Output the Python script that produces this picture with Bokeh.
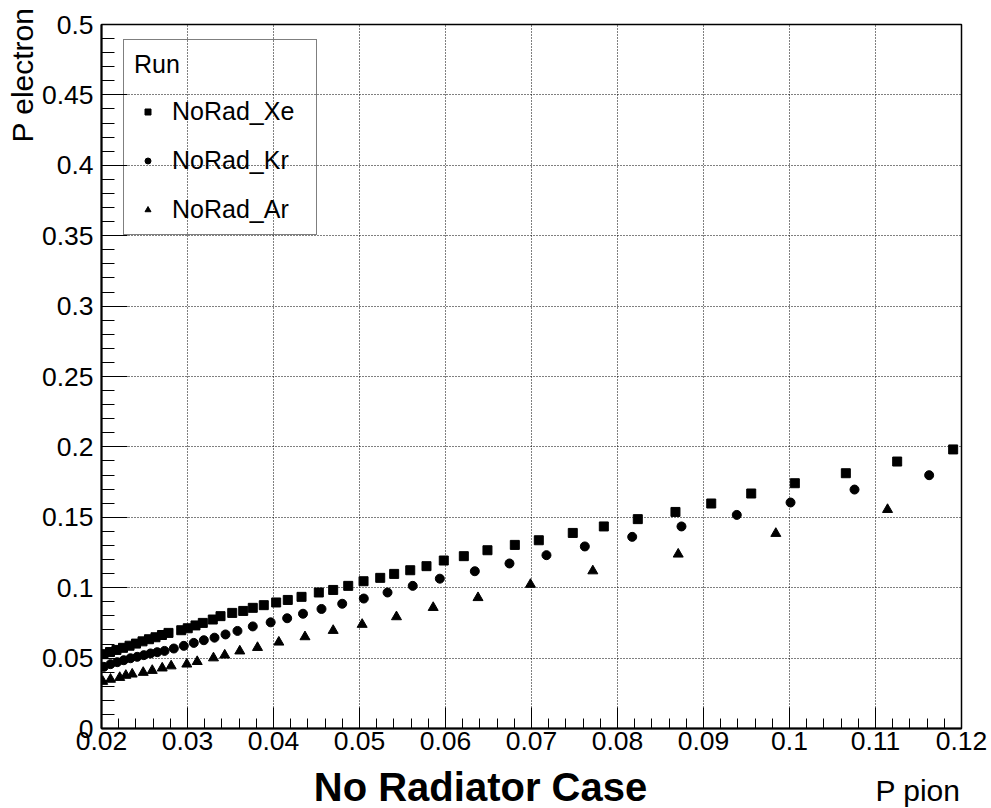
import numpy as np
from bokeh.plotting import figure
from bokeh.layouts import column
from bokeh.models import (ColumnDataSource, FixedTicker, Legend, LegendItem, Label, Range1d, Title)
from bokeh.embed import file_html
from bokeh.resources import INLINE

# ---- data ----
xe_x = [0.02023, 0.02099, 0.02174, 0.0225, 0.02326, 0.02401, 0.02477, 0.02552, 0.02628, 0.02703,
        0.02779, 0.02927, 0.03003, 0.03093, 0.03178, 0.03294, 0.03384, 0.0352, 0.03648, 0.03759,
        0.03887, 0.04031, 0.04166, 0.04326, 0.04527, 0.04694, 0.04869, 0.05047, 0.05241, 0.05403,
        0.0559, 0.05779, 0.0598, 0.06213, 0.06488, 0.06806, 0.07085, 0.0748, 0.07841, 0.08236,
        0.08674, 0.0909, 0.09555, 0.10062, 0.10655, 0.11252, 0.11903]
xe_y = [0.0528, 0.0543, 0.0558, 0.0573, 0.0588, 0.0603, 0.0619, 0.0634, 0.0648, 0.0664,
        0.0679, 0.0698, 0.0712, 0.0732, 0.0750, 0.0774, 0.0798, 0.0821, 0.0835, 0.0857,
        0.0876, 0.0895, 0.0913, 0.0935, 0.0966, 0.0984, 0.1013, 0.1046, 0.1070, 0.1098,
        0.1124, 0.1153, 0.1193, 0.1224, 0.1266, 0.1304, 0.1337, 0.1389, 0.1435, 0.1487,
        0.1538, 0.1598, 0.1669, 0.1742, 0.1813, 0.1896, 0.1982]

kr_x = [0.02027, 0.02105, 0.02183, 0.02259, 0.02337, 0.02415, 0.02492, 0.0257, 0.02648, 0.02733,
        0.02841, 0.02957, 0.03073, 0.0319, 0.03314, 0.03442, 0.03581, 0.03759, 0.03967, 0.04159,
        0.04343, 0.04558, 0.04799, 0.0505, 0.05326, 0.05619, 0.05934, 0.06341, 0.06744, 0.07174,
        0.0762, 0.08171, 0.08744, 0.09387, 0.10012, 0.10756, 0.11624]
kr_y = [0.0438, 0.0457, 0.0471, 0.0485, 0.0499, 0.0509, 0.0521, 0.0533, 0.0542, 0.0551,
        0.0568, 0.0587, 0.0608, 0.0627, 0.0645, 0.0668, 0.0693, 0.0725, 0.0754, 0.0783,
        0.0815, 0.0849, 0.0886, 0.0923, 0.0966, 0.1013, 0.1064, 0.1117, 0.1172, 0.1231,
        0.1293, 0.1361, 0.1435, 0.1517, 0.1605, 0.1697, 0.1799]

ar_x = [0.02014, 0.02105, 0.02212, 0.02283, 0.02357, 0.02485, 0.0259, 0.02706, 0.0281, 0.02992,
        0.03113, 0.03302, 0.03433, 0.03608, 0.03814, 0.04062, 0.04366, 0.04694, 0.05031, 0.0543,
        0.05857, 0.06378, 0.06988, 0.07713, 0.08706, 0.09841, 0.1114]
ar_y = [0.0334, 0.0349, 0.0362, 0.0377, 0.0386, 0.0398, 0.0412, 0.0429, 0.0444, 0.0457,
        0.0475, 0.0501, 0.0521, 0.0550, 0.0575, 0.0613, 0.0651, 0.0696, 0.0739, 0.0793,
        0.0859, 0.0929, 0.1023, 0.1119, 0.1238, 0.1385, 0.1555]

series_names = ["NoRad_Xe", "NoRad_Kr", "NoRad_Ar"]

x_ticks = [0.02, 0.03, 0.04, 0.05, 0.06, 0.07, 0.08, 0.09, 0.10, 0.11, 0.12]
x_tick_labels = ["0.02", "0.03", "0.04", "0.05", "0.06", "0.07", "0.08", "0.09", "0.1", "0.11", "0.12"]
y_ticks = [0.0, 0.05, 0.10, 0.15, 0.20, 0.25, 0.30, 0.35, 0.40, 0.45, 0.50]
y_tick_labels = ["0", "0.05", "0.1", "0.15", "0.2", "0.25", "0.3", "0.35", "0.4", "0.45", "0.5"]

x_title = "P pion"
y_title = "P electron"
caption = "No Radiator Case"
legend_title = "Run"

FONT = "Liberation Sans"

p = figure(frame_width=860, frame_height=704,
           min_border_left=101, min_border_right=30, min_border_top=24, min_border_bottom=35,
           x_range=Range1d(0.02, 0.12), y_range=Range1d(0.0, 0.5),
           output_backend="svg", toolbar_location=None,
           background_fill_color="white", border_fill_color="white")

p.outline_line_color = "black"
p.outline_line_width = 1.5

# ticks
xt = FixedTicker(ticks=x_ticks, minor_ticks=list(np.round(np.arange(0.02, 0.12001, 0.002), 4)))
yt = FixedTicker(ticks=y_ticks, minor_ticks=list(np.round(np.arange(0.0, 0.5001, 0.01), 4)))
p.xaxis.ticker = xt
p.yaxis.ticker = yt
p.xaxis.major_label_overrides = {t: l for t, l in zip(x_ticks, x_tick_labels)}
p.yaxis.major_label_overrides = {t: l for t, l in zip(y_ticks, y_tick_labels)}

for ax in (p.xaxis[0], p.yaxis[0]):
    ax.axis_line_color = "black"
    ax.axis_line_width = 2
    ax.major_tick_line_color = "black"
    ax.minor_tick_line_color = "black"
    ax.major_tick_out = 0
    ax.minor_tick_out = 0
    ax.major_label_text_font = FONT
    ax.major_label_text_font_size = "26.5px"
    ax.major_label_text_color = "black"

p.xaxis.major_tick_in = 21
p.xaxis.minor_tick_in = 10
p.yaxis.major_tick_in = 26
p.yaxis.minor_tick_in = 13
p.xaxis.major_label_standoff = 3
p.yaxis.major_label_standoff = 8

p.grid.grid_line_color = "black"
p.grid.grid_line_dash = "1 2"
p.grid.grid_line_width = 1
p.xgrid.ticker = xt
p.ygrid.ticker = yt

src_xe = ColumnDataSource(dict(x=xe_x, y=xe_y))
src_kr = ColumnDataSource(dict(x=kr_x, y=kr_y))
src_ar = ColumnDataSource(dict(x=ar_x, y=ar_y))

r_xe = p.scatter("x", "y", source=src_xe, marker="square", size=9, color="black")
r_kr = p.scatter("x", "y", source=src_kr, marker="circle", size=9, color="black")
r_ar = p.scatter("x", "y", source=src_ar, marker="triangle", size=10, color="black")

legend = Legend(items=[LegendItem(label=series_names[0], renderers=[r_xe]),
                       LegendItem(label=series_names[1], renderers=[r_kr]),
                       LegendItem(label=series_names[2], renderers=[r_ar])],
                location=(22, 493), title=legend_title,
                title_text_font=FONT, title_text_font_size="25px", title_text_font_style="normal",
                title_text_color="black",
                label_text_font=FONT, label_text_font_size="25px", label_text_color="black",
                border_line_color="black", border_line_width=1.5,
                background_fill_alpha=0.0,
                padding=10, spacing=20, label_height=28, label_width=134,
                glyph_height=15, glyph_width=27, label_standoff=11, title_standoff=18,
                margin=0)
p.add_layout(legend)

# y-axis title, ROOT style (right-aligned to the top end of the axis)
p.add_layout(Title(text=y_title, align="right", offset=-17, standoff=0,
                   text_font=FONT, text_font_size="30px", text_font_style="normal",
                   text_color="black"), "left")

# strip below the plot carrying the caption and the x-axis title
# (same side borders as the main plot, so the frames line up; x in pixels from frame left)
b = figure(title=None, frame_width=860, frame_height=45,
           min_border_left=101, min_border_right=30, min_border_top=0, min_border_bottom=0,
           x_range=Range1d(0, 860), y_range=Range1d(0, 45),
           x_axis_type=None, y_axis_type=None,
           output_backend="svg", toolbar_location=None,
           background_fill_color="white", border_fill_color="white")
b.outline_line_color = None
b.grid.visible = False
b.add_layout(Label(x=859, y=35, text=x_title, text_align="right", text_baseline="top",
                   text_font=FONT, text_font_size="30px", text_color="black"))
b.add_layout(Label(x=379, y=0, text=caption, text_align="center", text_baseline="bottom",
                   text_font=FONT, text_font_size="40px", text_font_style="bold",
                   text_color="black"))

layout = column(p, b, spacing=0)
open("out.html", "w").write(file_html(layout, INLINE))
